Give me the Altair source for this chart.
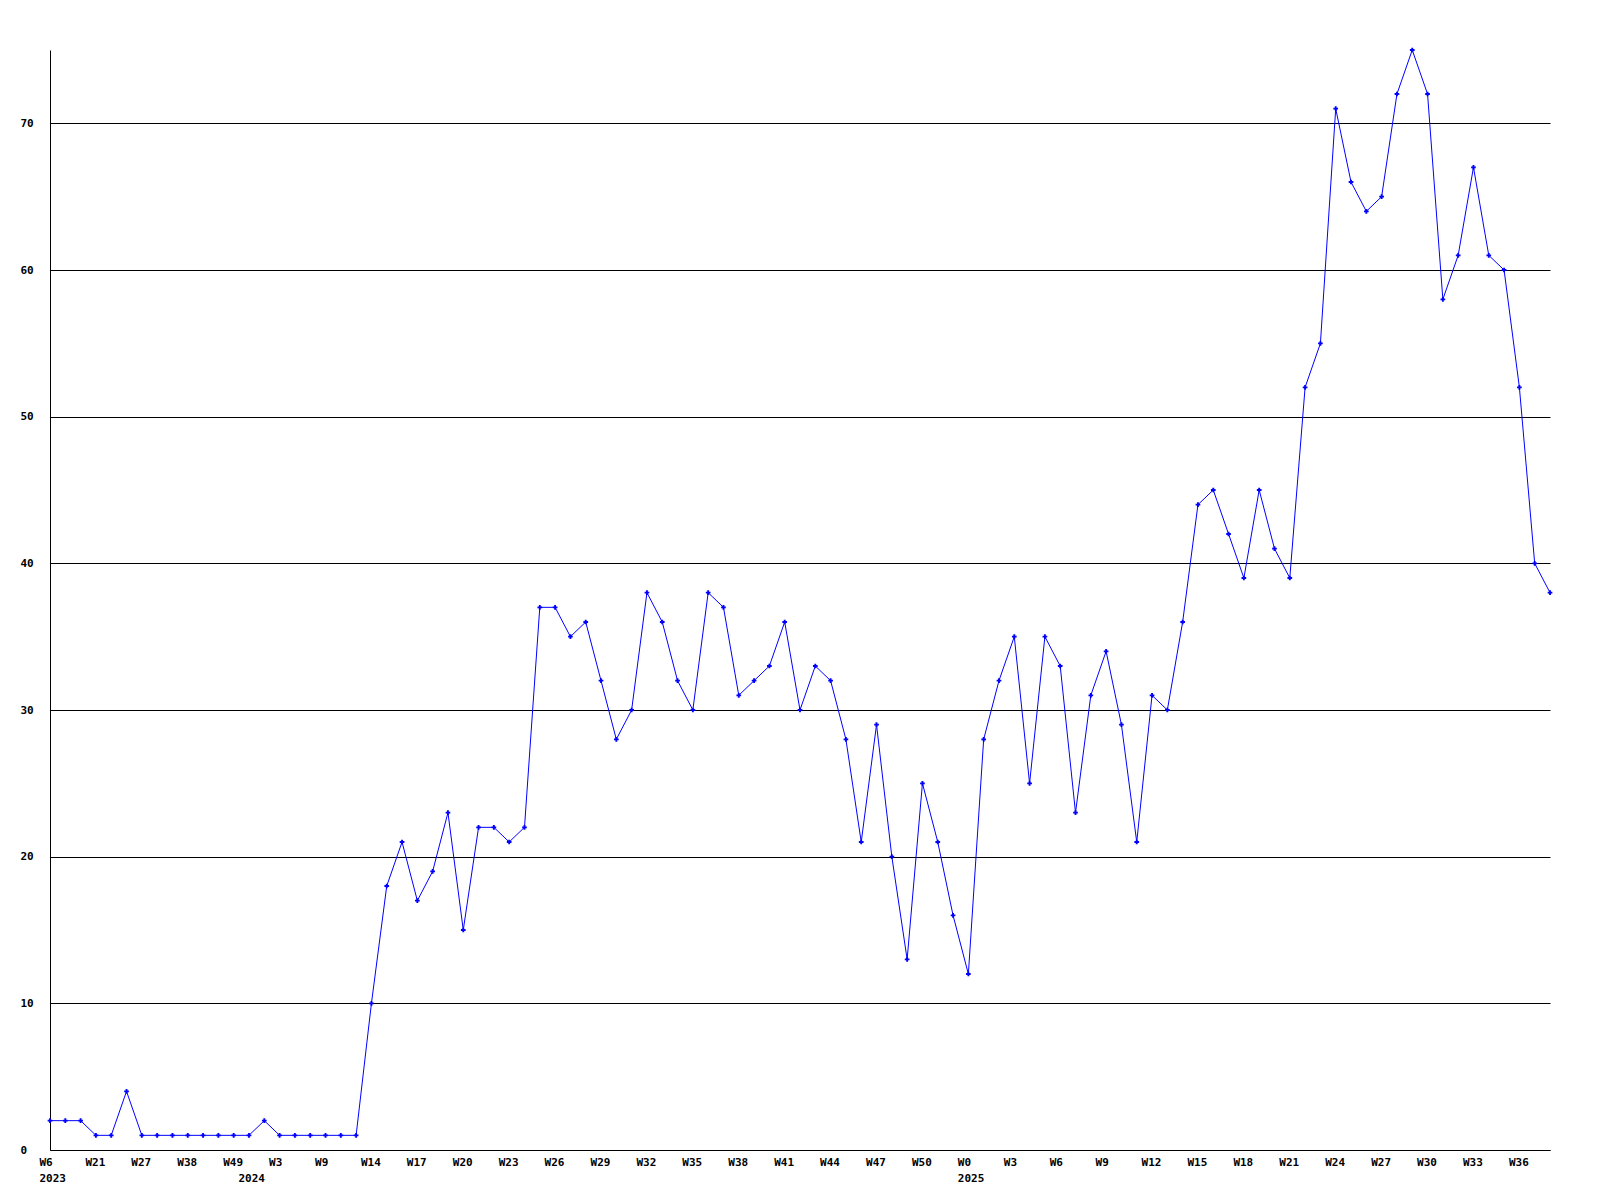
import json
import altair as alt
import pandas as pd

# ---- data ----
years = [2023] * 13 + [2024] * 47 + [2025] * 39
weeks = (
    [6, 11, 16, 21, 23, 25, 27, 31, 35, 38, 42, 45, 49]
    + [1, 2, 3, 5, 7, 9, 11, 12] + list(range(14, 53))
    + list(range(0, 39))
)
values = [
    2, 2, 2, 1, 1, 4, 1, 1, 1, 1, 1, 1, 1,
    1, 2, 1, 1, 1, 1, 1, 1,
    10, 18, 21, 17, 19, 23, 15, 22, 22, 21, 22, 37, 37, 35, 36, 32, 28, 30,
    38, 36, 32, 30, 38, 37, 31, 32, 33, 36, 30, 33, 32, 28, 21, 29, 20, 13,
    25, 21, 16,
    12, 28, 32, 35, 25, 35, 33, 23, 31, 34, 29, 21, 31, 30, 36, 44, 45, 42,
    39, 45, 41, 39, 52, 55, 71, 66, 64, 65, 72, 75, 72, 58, 61, 67, 61, 60,
    52, 40, 38,
]

keys = [f"{y}-W{w}" for y, w in zip(years, weeks)]
y_ticks = [0, 10, 20, 30, 40, 50, 60, 70]

# tick labels: week every 3rd point, year under the first point of each year
label_map = {}
for i, k in enumerate(keys):
    wl = f"W{weeks[i]}" if i % 3 == 0 else ""
    yl = str(years[i]) if (i == 0 or years[i] != years[i - 1]) else ""
    if wl or yl:
        label_map[k] = [wl, yl]

df = pd.DataFrame({"key": keys, "value": values})

FONT = "DejaVu Sans Mono"

base = alt.Chart(df).encode(
    x=alt.X(
        "key:O",
        sort=keys,
        scale=alt.Scale(type="point", padding=0),
        axis=alt.Axis(
            values=list(label_map.keys()),
            labelExpr=json.dumps(label_map) + "[datum.value]",
            labelAngle=0,
            ticks=False,
            grid=False,
            domainColor="black",
            domainWidth=1,
            labelAlign="left",
            labelOffset=-11,
            labelBaseline="top",
            labelPadding=6,
            labelLineHeight=16,
            labelFont=FONT,
            labelFontWeight="bold",
            labelFontSize=11,
            labelColor="black",
            labelOverlap=False,
            labelBound=False,
            title=None,
        ),
    ),
    y=alt.Y(
        "value:Q",
        scale=alt.Scale(domain=[0, 75], nice=False, zero=True),
        axis=alt.Axis(
            values=y_ticks,
            grid=True,
            gridColor="black",
            gridWidth=1,
            gridOpacity=1,
            ticks=False,
            domainColor="black",
            domainWidth=1,
            labelAlign="left",
            labelBaseline="middle",
            labelPadding=30,
            labelFlush=False,
            labelFont=FONT,
            labelFontWeight="bold",
            labelFontSize=11,
            labelColor="black",
            title=None,
        ),
    ),
)

line = base.mark_line(color="#0000ff", strokeWidth=1, clip=True)
pts = base.mark_point(
    shape="cross", filled=True, size=22, color="#0000ff", opacity=1, clip=False
)

chart = (
    alt.layer(line, pts)
    .properties(
        width=1500,
        height=1100,
        autosize=alt.AutoSizeParams(type="none"),
        padding={"left": 42, "top": 42, "right": 40, "bottom": 45},
        background="white",
    )
    .configure_view(stroke=None)
)

chart.save("out.html", embed_options={"renderer": "svg", "actions": False})
